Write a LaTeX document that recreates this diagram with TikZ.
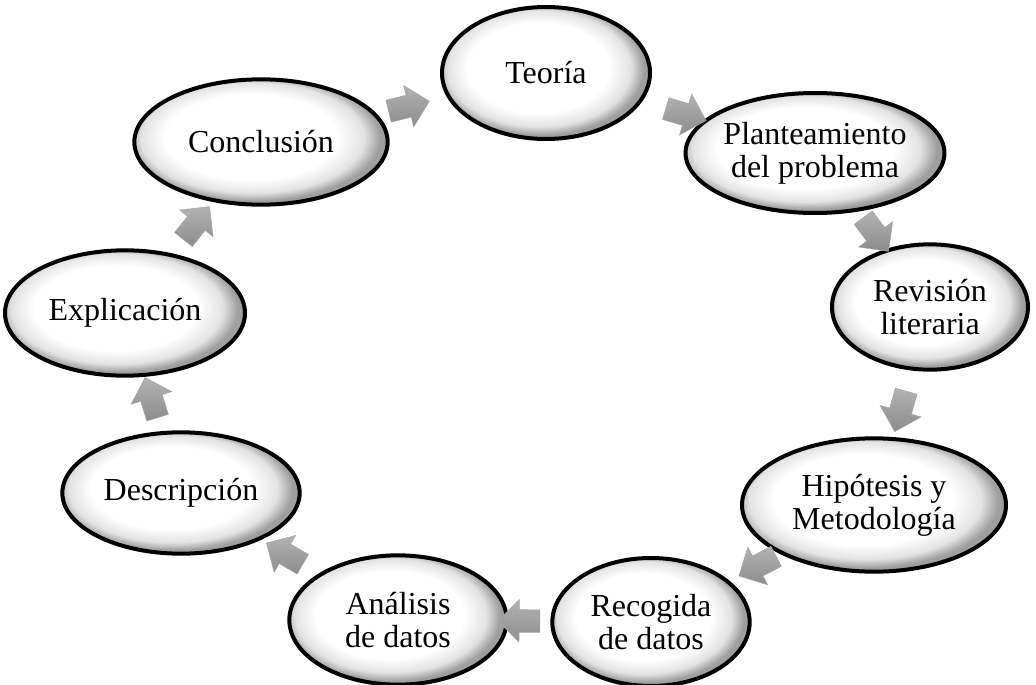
\documentclass[tikz,border=0pt]{standalone}
\usepackage{fontspec}
\setmainfont{Liberation Serif}
\usetikzlibrary{shapes.geometric,shapes.arrows,calc}
\pgfdeclareradialshading{ovalshade}{\pgfpoint{-3bp}{3bp}}{color(0bp)=(white); color(17bp)=(white); color(22bp)=(gray!22); color(25bp)=(gray!75); color(50bp)=(gray!75)}
\begin{document}
\begin{tikzpicture}[x=0.75pt,y=-0.75pt,
  oval/.style={ellipse, draw=black, line width=3pt, shading=ovalshade, inner sep=0pt,
    align=center, font=\fontsize{24pt}{24.75pt}\selectfont},
  barrow/.style={single arrow, sloped, allow upside down, draw=gray!70, line width=0.4pt,
    top color=gray!60, middle color=gray!30, bottom color=gray!90,
    minimum height=31.5pt, inner xsep=0pt, inner ysep=8.25pt,
    text height=0pt, text depth=0pt, text width=0pt,
    single arrow head extend=7.5pt, single arrow head indent=0pt}]
\useasboundingbox (0,0) rectangle (1036,685);
\node[oval, minimum width=156pt, minimum height=99pt] (teoria) at (546,73) {Teoría};
\node[oval, minimum width=193pt, minimum height=90pt] (plant) at (815,153) {Planteamiento\\del problema};
\node[oval, minimum width=147pt, minimum height=94pt] (rev) at (930,307) {Revisión\\literaria};
\node[oval, minimum width=198pt, minimum height=100pt] (hip) at (874,505) {Hipótesis y\\Metodología};
\node[oval, minimum width=148pt, minimum height=96pt] (rec) at (651,622) {Recogida\\de datos};
\node[oval, minimum width=163pt, minimum height=97pt] (ana) at (398,620) {Análisis\\de datos};
\node[oval, minimum width=178pt, minimum height=91pt] (desc) at (181,493) {Descripción};
\node[oval, minimum width=180pt, minimum height=94pt] (expl) at (125,313) {Explicación};
\node[oval, minimum width=190pt, minimum height=94pt] (concl) at (261,142) {Conclusión};
\path (concl.center) -- node[barrow] (a1) {} (teoria.center);
\path (teoria.center) -- node[barrow] (a2) {} (plant.center);
\path (plant.center) -- node[barrow] (a3) {} (rev.center);
\path (rev.center) -- node[barrow] (a4) {} (hip.center);
\path (hip.center) -- node[barrow] (a5) {} (rec.center);
\path (rec.center) -- node[barrow] (a6) {} (ana.center);
\path (ana.center) -- node[barrow] (a7) {} (desc.center);
\path (desc.center) -- node[barrow] (a8) {} (expl.center);
\path (expl.center) -- node[barrow] (a9) {} (concl.center);
\end{tikzpicture}
\end{document}
